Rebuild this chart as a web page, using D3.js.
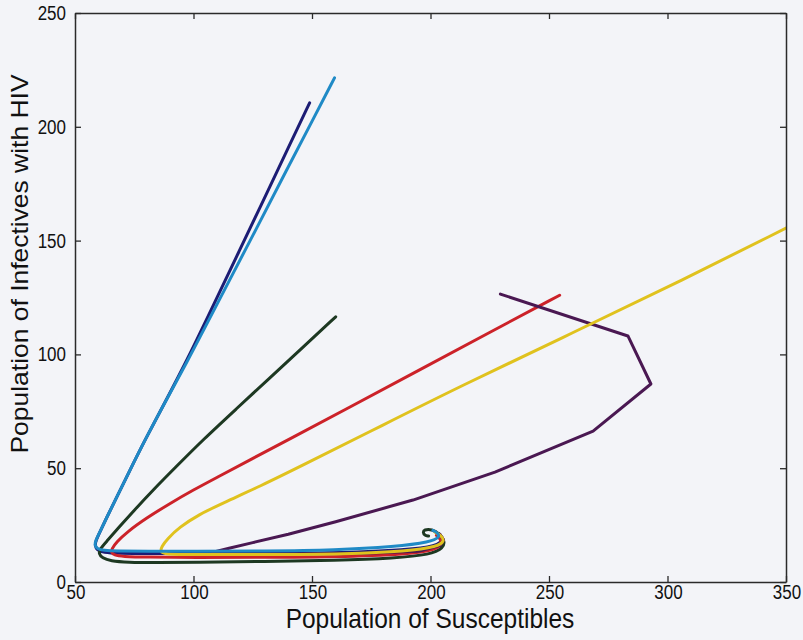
<!DOCTYPE html>
<html><head><meta charset="utf-8">
<script src="https://cdn.jsdelivr.net/npm/d3@7"></script>
<style>
html,body{margin:0;padding:0;background:#f3f4f8;}
svg{display:block;}
text{font-family:"Liberation Sans",Arial,sans-serif;fill:#111;}
</style></head>
<body>
<svg id="chart" width="803" height="640"></svg>
<script>
// Tick values
const xTicks = [50, 100, 150, 200, 250, 300, 350];
const yTicks = [0, 50, 100, 150, 200, 250];
const xLabel = "Population of Susceptibles";
const yLabel = "Population of Infectives with HIV";

// Trajectories: [Susceptibles, Infectives]
const navyS = [149,139.6,129.4,119.1,108.8,97.3,88.5,79.5,72.5,67,63,60.5,58.8,58.4,59.3,62,68,80,110,140,170,195,204,205,203.5];
const navyI = [210.5,190,167.5,145,122.5,97.5,80,62.4,47.7,36,27.5,22,18.2,16,14,13,12.6,12.5,12.5,12.6,13,14.5,16.5,19,21.3];

const greenS = [160,146,132,118,104,93,83,75,68.5,63.5,60.5,60,61.5,65,72,85,100,130,160,185,200,205.5,206,204,200.5,197.3,196.8,197.5,199.2];
const greenI = [116.5,103,89.5,76,62.5,51,40.5,31.5,24,18,14.5,12.5,10.5,9.2,8.6,8.5,8.7,9,9.5,10.5,12,15,18,21,23.3,23,21.8,20.5,20.2];

const redS = [254.5,225,195,165,140,125,110,100,90,80,72,67.5,65.5,65.3,66.5,70,80,100,130,170,195,204,205,202.5];
const redI = [126,109.7,93,76.3,62.5,54.3,46,40.5,34.5,28,22,17.5,14.5,13,11.8,11.2,10.9,10.8,10.8,11.2,12.5,15,18,20.5];

const purpleS = [229.5,283.3,293,268.6,227.2,192.6,160,140,125,115,109.5,108,111,120,140,170,195,204,205.5,204];
const purpleI = [126.5,108.1,87,66.3,48.3,36,26.5,21,17.3,14.8,13.4,12.8,12.4,12.3,12.3,12.5,13.5,16,18.5,21];

const yellowS = [350,306.5,260,212,180,145,128,113,102,94,89,86.5,86,88,95,130,165,190,203,206,204.5,202];
const yellowI = [155.5,132.7,109.5,85.7,69,50.7,42,35,29.5,24,19,15.5,13.3,12.3,12,12,12.3,13.5,15.5,18,20.5,21.8];

const blueS = [159.5,149.8,139.3,126.9,113.9,102.9,97.7,88.5,79.5,72.5,67,63,60.5,58.7,58.3,59.3,62,68,80,100,130,160,185,200,204,203,201];
const blueI = [221.5,202,181,156,130,108,97.5,80,62.4,47.7,36,27.5,22,18.2,16.2,14.6,13.8,13.6,13.5,13.5,13.6,14,15.5,17.5,19.8,21.6,22.7];

const series = [
  {name:"navy", S:navyS, I:navyI, color:"#1c1c74", linear:false},
  {name:"green", S:greenS, I:greenI, color:"#1d3822", linear:false},
  {name:"red", S:redS, I:redI, color:"#cc2229", linear:false},
  {name:"purple", S:purpleS, I:purpleI, color:"#4a1852", linear:true},
  {name:"yellow", S:yellowS, I:yellowI, color:"#e0c21e", linear:false},
  {name:"blue", S:blueS, I:blueI, color:"#1f8ac6", linear:false}
];

const svg = d3.select("#chart");
const L = 75, R = 786, T = 13, B = 582;
const x = d3.scaleLinear().domain([50, 350]).range([L, R]);
const y = d3.scaleLinear().domain([0, 250]).range([B, T]);
const VS = 1.15; // vertical stretch of the scanned text

svg.append("defs").append("clipPath").attr("id","clip")
  .append("rect").attr("x",L).attr("y",T).attr("width",R-L).attr("height",B-T);

const g = svg.append("g").attr("clip-path","url(#clip)");
series.forEach(s => {
  const pts = s.S.map((v,i)=>[v, s.I[i]]);
  const line = d3.line().x(d=>x(d[0])).y(d=>y(d[1]))
    .curve(s.linear ? d3.curveLinear : d3.curveBasis);
  g.append("path").attr("d", line(pts)).attr("fill","none")
    .attr("stroke", s.color).attr("stroke-width", 3)
    .attr("stroke-linejoin","round").attr("stroke-linecap","round");
});

// Axes (ticks inward, mirrored)
const ax = "#2a2a2a";
const tickLen = 6;
const axB = svg.append("g").attr("transform",`translate(0,${B})`)
  .call(d3.axisBottom(x).tickValues(xTicks).tickSizeInner(-tickLen).tickSizeOuter(0).tickFormat(""));
const axL = svg.append("g").attr("transform",`translate(${L},0)`)
  .call(d3.axisLeft(y).tickValues(yTicks).tickSizeInner(-tickLen).tickSizeOuter(0).tickFormat(""));
const axT = svg.append("g").attr("transform",`translate(0,${T})`)
  .call(d3.axisTop(x).tickValues(xTicks).tickSizeInner(-tickLen).tickSizeOuter(0).tickFormat(""));
const axR = svg.append("g").attr("transform",`translate(${R},0)`)
  .call(d3.axisRight(y).tickValues(yTicks).tickSizeInner(-tickLen).tickSizeOuter(0).tickFormat(""));
[axB,axL,axT,axR].forEach(a=>{
  a.selectAll("path.domain").attr("stroke",ax).attr("stroke-width",1.5);
  a.selectAll(".tick line").attr("stroke",ax).attr("stroke-width",1.3);
});

// Tick labels
const fmt = d3.format("d");
svg.append("g").selectAll("text").data(xTicks).join("text")
  .attr("transform", d=>`translate(${x(d)+1},599) scale(1,${VS})`)
  .attr("text-anchor","middle").attr("font-size",17).text(fmt);
svg.append("g").selectAll("text").data(yTicks).join("text")
  .attr("transform", d=>`translate(66,${y(d)+7}) scale(1,${VS})`)
  .attr("text-anchor","end").attr("font-size",17).text(fmt);

// Axis titles
svg.append("text").attr("transform",`translate(430,628) scale(1,1.1)`)
  .attr("text-anchor","middle").attr("font-size",24.5).text(xLabel);
svg.append("text").attr("transform",`translate(28,264) scale(1,${VS}) rotate(-90)`)
  .attr("text-anchor","middle").attr("font-size",23).text(yLabel);
</script>
</body></html>
